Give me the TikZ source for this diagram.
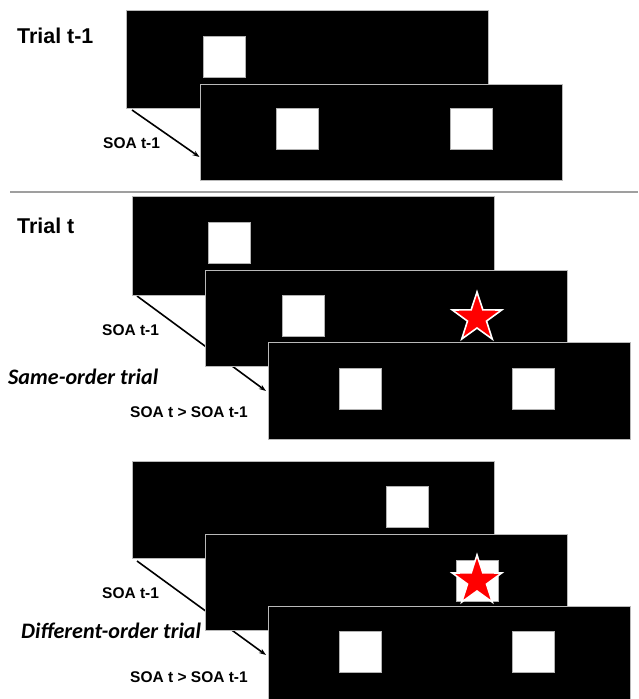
\documentclass[tikz,border=0pt]{standalone}
\usepackage{fontspec}
\setmainfont{Liberation Sans}
\newfontfamily\itfont{Carlito}
\usetikzlibrary{arrows.meta,calc}
\pgfdeclarelayer{background}
\pgfsetlayers{background,main}
\tikzset{
  panel/.style={fill=black,draw=gray!55,line width=0.8pt,inner sep=0pt,outer sep=0pt,anchor=north west,minimum width=#1},
  panel/.default=362pt,
  sq/.style={fill=white,draw=gray!60,line width=0.8pt,inner sep=0pt,outer sep=0pt,anchor=north west,minimum width=42pt,minimum height=41pt},
  ttl/.style={font=\bfseries\fontsize{21.4}{24}\selectfont,inner sep=0pt,anchor=base west},
  soa/.style={font=\bfseries\fontsize{15.5}{18}\selectfont,inner sep=0pt,anchor=base west},
  itl/.style={font=\itfont\bfseries\itshape\fontsize{22.1}{26}\selectfont,inner sep=0pt,anchor=base west},
  arr/.style={line width=1.6pt,-{Stealth[length=7pt,width=5pt]}},
  starshape/.style={fill=red,draw=white,line width=1.6pt,line join=miter}
}
\newcommand{\mystar}[3]{% name, x, y
  \coordinate (#1) at (#2,#3);
  \draw[starshape] ($(#1)+(90:26pt)$) -- ($(#1)+(126:10pt)$) -- ($(#1)+(162:26pt)$) -- ($(#1)+(198:10pt)$)
    -- ($(#1)+(234:26pt)$) -- ($(#1)+(270:10pt)$) -- ($(#1)+(306:26pt)$)
    -- ($(#1)+(342:10pt)$) -- ($(#1)+(18:26pt)$) -- ($(#1)+(54:10pt)$) -- cycle;}
\begin{document}
\begin{tikzpicture}[x=1pt,y=-1pt]
\useasboundingbox (0,0) rectangle (638,699);

% ---------- Section 1: Trial t-1 ----------
\node[ttl] (t1) at (17,43) {Trial t-1};
\node[panel, minimum height=98pt] (p1a) at (126,10) {};
\node[sq] (s1a) at (203,36) {};
\node[panel, minimum height=96pt] (p1b) at (200,84) {};
\node[sq] (s1b) at (276,108) {};
\node[sq] (s1c) at (450,108) {};
\node[soa] (l1) at (103,148.5) {SOA t-1};
\coordinate (a1s) at (132,110);
\coordinate (a1e) at (199.5,157);
\draw[arr] (a1s) -- (a1e);

% separator
\coordinate (sepL) at (10,192);
\coordinate (sepR) at (638,192);
\draw[gray!75,line width=1.3pt] (sepL) -- (sepR);

% ---------- Section 2: Trial t ----------
\node[ttl] (t2) at (17,233) {Trial t};
\node[panel, minimum height=99pt] (p2a) at (132,196) {};
\node[sq] (s2a) at (208,222) {};
\node[panel, minimum height=96pt] (p2b) at (205,270) {};
\node[sq] (s2b) at (282,295) {};
\mystar{st2}{477}{318}
\node[panel, minimum height=97pt] (p2c) at (268,342) {};
\node[sq] (s2c) at (339,368) {};
\node[sq] (s2d) at (512,368) {};
\node[soa] (l2) at (102,335) {SOA t-1};
\node[itl] (l2i) at (8,384) {Same-order trial};
\node[soa] (l2s) at (130,417) {SOA t > SOA t-1};
\coordinate (a2s) at (137,296);
\coordinate (a2e) at (266,391);
\begin{pgfonlayer}{background}
\draw[arr] (a2s) -- (a2e);
\end{pgfonlayer}

% ---------- Section 3: Different-order ----------
\node[panel, minimum height=97pt] (p3a) at (132,461) {};
\node[sq] (s3a) at (386,486) {};
\node[panel, minimum height=96pt] (p3b) at (205,534) {};
\node[sq] (s3b) at (456,560) {};
\mystar{st3}{477}{581}
\node[panel, minimum height=100pt] (p3c) at (268,606) {};
\node[sq] (s3c) at (339,631) {};
\node[sq] (s3d) at (512,631) {};
\node[soa] (l3) at (102,598) {SOA t-1};
\node[itl] (l3i) at (21,638) {Different-order trial};
\node[soa] (l3s) at (130,682) {SOA t > SOA t-1};
\coordinate (a3s) at (137,561);
\coordinate (a3e) at (266,655);
\begin{pgfonlayer}{background}
\draw[arr] (a3s) -- (a3e);
\end{pgfonlayer}
\end{tikzpicture}
\end{document}
